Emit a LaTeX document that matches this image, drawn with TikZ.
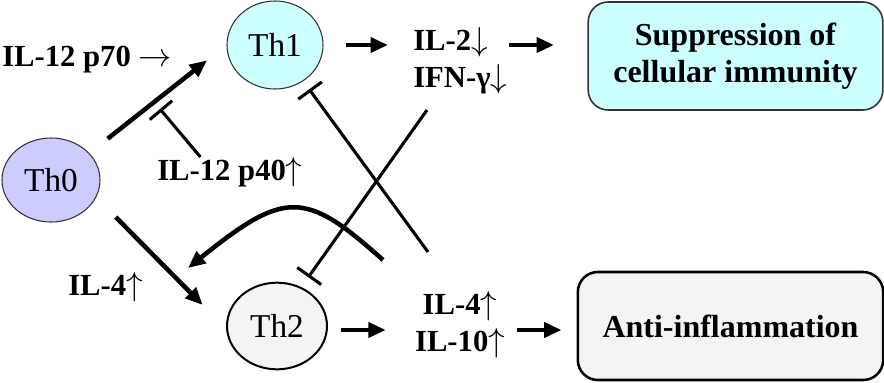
\documentclass[tikz,border=0pt]{standalone}
\usepackage{fontspec}
\setmainfont{Liberation Serif}
\usetikzlibrary{arrows.meta,shapes.geometric,calc}
\definecolor{lavender}{HTML}{CCCCFF}
\definecolor{palecyan}{HTML}{CCFFFF}
\definecolor{palegray}{HTML}{F4F4F4}
\definecolor{rim}{HTML}{333333}
\newcommand\incr{$\uparrow$}
\newcommand\decr{$\downarrow$}
\newcommand\goesto{$\rightarrow$}

\tikzset{
  cell/.style={ellipse,draw=rim,line width=.8pt,inner sep=0pt,font=\fontsize{25}{30}\selectfont},
  lab/.style={font=\fontsize{23}{27.5}\selectfont\bfseries,inner sep=0pt},
  outcome/.style={rounded corners=15pt,inner sep=0pt,align=center,minimum height=81pt,font=\fontsize{24}{28}\selectfont\bfseries},
  act/.style={-{Triangle[length=13pt,width=11pt]},line width=3.4pt},
  inhib/.style={-{Bar[width=22pt]},line width=2.3pt},
}

\begin{document}
\begin{tikzpicture}[x=.75pt,y=-.75pt]
\useasboundingbox (0,0) rectangle (884,382);
% cells
\node[cell,fill=lavender,minimum width=73.5pt,minimum height=63pt] (th0) at (51,180) {Th0};
\node[cell,fill=palecyan,minimum width=72pt,minimum height=66pt] (th1) at (275,45) {Th1};
\node[cell,fill=palegray,draw=black,line width=1.5pt,minimum width=75pt,minimum height=65pt] (th2) at (277,326) {Th2};
% cytokines
\node[lab,anchor=west] (p70) at (2,60) {IL-12 p70 \goesto};
\node[lab,anchor=west] (p40) at (157,172) {IL-12 p40\incr};
\node[lab,anchor=west] (il4) at (68,287) {IL-4\incr};
\node[lab,anchor=west,align=left] (lab1) at (413,61) {IL-2\decr\\IFN-γ\decr};
\node[lab,align=center] (lab2) at (460,325) {IL-4\incr\\IL-10\incr};
% outcomes
\node[outcome,fill=palecyan,draw=rim,line width=1.2pt,minimum width=221pt] (supp) at (735.5,56) {Suppression of\\cellular immunity};
\node[outcome,fill=palegray,draw=black,line width=1.9pt,minimum width=229pt] (anti) at (730.5,326) {Anti-inflammation};
% free ends
\coordinate (p40bar) at (160,109);
\coordinate (fromil4) at (428,252);
\coordinate (fromifn) at (427,110);
\coordinate (fbsrc) at (383,260);
\coordinate (fbtip) at (188,268);

\draw[act,shorten <=17.5pt,shorten >=18.6pt] (th0.35) -- (th1.180);
\draw[act,shorten <=20.8pt,shorten >=25pt] (th0.-21) -- (th2.183);
\draw[act,shorten <=16.5pt,shorten >=18.75pt] (th1.east) -- (th1.east -| lab1.west);
\draw[act,shorten <=1pt,shorten >=25pt] (th1.east -| lab1.east) -- (th1.east -| supp.west);
\draw[act,shorten <=9.75pt,shorten >=21.75pt] ([yshift=-3pt]th2.east) -- ([yshift=-3pt]th2.east -| lab2.west);
\draw[act,shorten <=9pt,shorten >=11.25pt] ([yshift=-3pt]th2.east -| lab2.east) -- ([yshift=-3pt]th2.east -| anti.west);
\draw[act] (fbsrc) .. controls (305,190) and (285,190) .. (fbtip);

\draw[inhib] (p40.153) -- (p40bar);
\draw[inhib,shorten >=7.5pt] (fromil4) -- (th1.-52);
\draw[inhib,shorten >=9pt] (fromifn) -- (th2.58);
\end{tikzpicture}
\end{document}
